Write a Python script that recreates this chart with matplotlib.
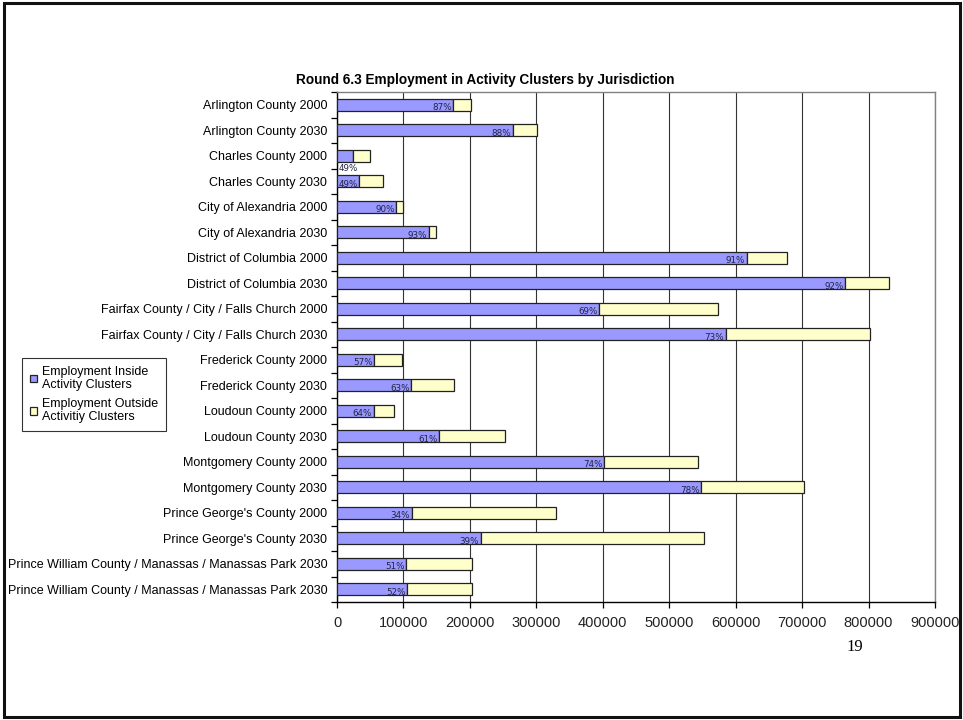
import numpy as np
import matplotlib.pyplot as plt
from matplotlib.patches import Rectangle

plt.rcParams['font.family'] = ['Liberation Sans', 'DejaVu Sans']

jurisdictions = [
    'Arlington County 2000',
    'Arlington County 2030',
    'Charles County 2000',
    'Charles County 2030',
    'City of Alexandria 2000',
    'City of Alexandria 2030',
    'District of Columbia 2000',
    'District of Columbia 2030',
    'Fairfax County / City / Falls Church 2000',
    'Fairfax County / City / Falls Church 2030',
    'Frederick County 2000',
    'Frederick County 2030',
    'Loudoun County 2000',
    'Loudoun County 2030',
    'Montgomery County 2000',
    'Montgomery County 2030',
    "Prince George's County 2000",
    "Prince George's County 2030",
    'Prince William County / Manassas / Manassas Park 2030',
    'Prince William County / Manassas / Manassas Park 2030',
]

inside = [175000, 265000, 24500, 33800, 89500, 138500, 617000, 765000,
          395000, 585000, 56000, 111500, 55000, 154000, 402000, 548000,
          112500, 216000, 104000, 106000]
outside = [27000, 36000, 25500, 35200, 10000, 10500, 61000, 66000,
           178000, 217000, 42000, 64500, 31000, 99000, 141000, 155000,
           217500, 337000, 99000, 97000]

inside = np.array(inside)
outside = np.array(outside)
share = inside / (inside + outside)

fig = plt.figure(figsize=(9.63, 7.2), dpi=100)
ax = fig.add_axes([337 / 963, 1 - 602 / 720, (935 - 337) / 963, (602 - 92) / 720])

y = np.arange(len(jurisdictions))
bar_h = 0.46
ax.barh(y, inside, height=bar_h, color='#9999FF', edgecolor='#222222',
        linewidth=0.9, label='Employment Inside\nActivity Clusters', zorder=3)
ax.barh(y, outside, left=inside, height=bar_h, color='#FFFFCC',
        edgecolor='#222222', linewidth=0.9,
        label='Employment Outside\nActivitiy Clusters', zorder=3)

# percentage labels at the inside end of the blue segment
for i, (v, s) in enumerate(zip(inside, share)):
    txt = f'{s * 100:.0f}%'
    x = max(v - 2500, 31000)
    dy = 0.12
    if i == 2:
        dy = 0.5
    ax.text(x, i + dy, txt, ha='right', va='center', fontsize=6.3,
            color='#222244', family='DejaVu Sans', zorder=4)

ax.set_ylim(len(jurisdictions) - 0.5, -0.5)
ax.set_xlim(0, 900000)
ax.set_xticks(np.arange(0, 900001, 100000))
ax.set_xticklabels([str(v) for v in range(0, 900001, 100000)], fontsize=10.5)

ax.set_yticks(y)
ax.set_yticklabels(jurisdictions, fontsize=9)
ax.tick_params(axis='y', length=0, pad=7)
ax.set_yticks(np.arange(-0.5, len(jurisdictions)), minor=True)
ax.tick_params(axis='y', which='minor', length=4, width=0.9, direction='out')
ax.tick_params(axis='x', length=4, width=0.9, direction='out', pad=6,
               labelcolor='#222222')

ax.grid(axis='x', color='#333333', linewidth=0.8, zorder=0)
ax.set_axisbelow(True)
for side in ['top', 'right']:
    ax.spines[side].set_color('#808080')
    ax.spines[side].set_linewidth(1.0)
for side in ['left', 'bottom']:
    ax.spines[side].set_color('black')
    ax.spines[side].set_linewidth(1.0)

fig.text(485 / 963, 1 - 80 / 720,
         'Round 6.3 Employment in Activity Clusters by Jurisdiction',
         ha='center', va='center', fontsize=9.8, fontweight='bold')

leg = fig.legend(loc='upper left', bbox_to_anchor=(22 / 963, 1 - 358 / 720),
                 fontsize=9, frameon=True, fancybox=False, edgecolor='black',
                 handlelength=0.6, handleheight=0.6, handletextpad=0.4,
                 borderpad=0.6, labelspacing=0.5, borderaxespad=0)
leg.get_frame().set_linewidth(0.8)

fig.text(855 / 963, 1 - 647 / 720, '19', ha='center', va='center',
         fontsize=12, family='Liberation Serif')

# slide border
fig.patches.append(Rectangle((4 / 963, 3 / 720), 956 / 963, 714 / 720,
                             transform=fig.transFigure, fill=False,
                             edgecolor='#111111', linewidth=2.2))

fig.savefig('out.png', dpi=100)
